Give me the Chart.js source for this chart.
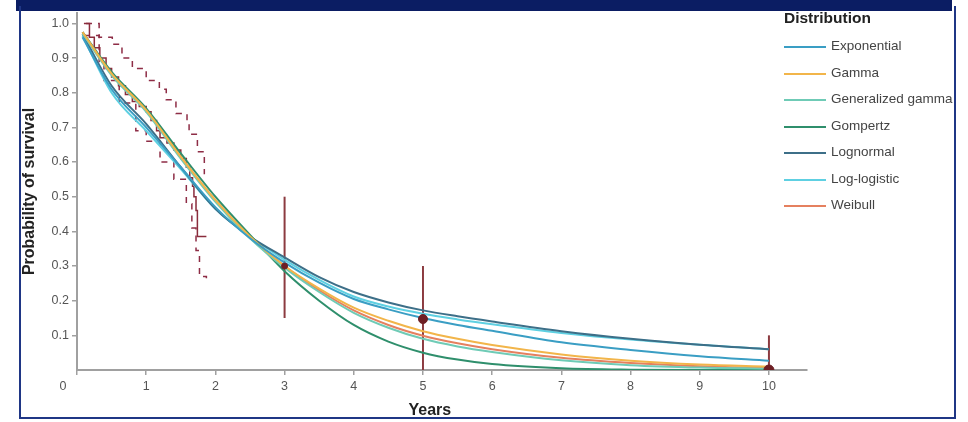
<!DOCTYPE html>
<html>
<head>
<meta charset="utf-8">
<script src="https://cdn.jsdelivr.net/npm/chart.js@4"></script>
<style>
  body { margin: 0; background: #fff; font-family: "Liberation Sans", Arial, sans-serif; }
  #wrap { position: relative; width: 968px; height: 422px; overflow: hidden; }
  #chart { position: absolute; left: 0; top: 0; }
  .band { position: absolute; left: 16px; top: 0; width: 936px; height: 11px; background: #0b1d63; }
  .frame { position: absolute; left: 19px; top: 6px; width: 933px; height: 411px; border: 2px solid #1f3685; border-top: none; }
  #legend { position: absolute; left: 784px; top: 7px; color: #444; }
  #legend .title { font-weight: bold; font-size: 15.5px; color: #222; height: 27px; line-height: 22px; }
  #legend .item { position: relative; height: 26.5px; font-size: 13.5px; white-space: nowrap; }
  #legend .swatch { position: absolute; left: 0; top: 12px; width: 42px; height: 2px; }
  #legend .label { position: absolute; left: 47px; top: 4px; }
</style>
</head>
<body>
<div id="wrap">
  <canvas id="chart" width="968" height="422"></canvas>
  <div class="band"></div>
  <div class="frame"></div>
  <div id="legend"></div>
</div>
<script>
"use strict";
// fitted parametric survival curves (years, probability)
const fitTimes = [0.08, 0.5, 1, 1.5, 2, 2.5, 3, 3.5, 4, 4.5, 5, 5.5, 6, 7, 8, 9, 10];
const exponential = [0.96, 0.81, 0.70, 0.585, 0.47, 0.38, 0.31, 0.252, 0.205, 0.175, 0.15, 0.13, 0.113, 0.08, 0.058, 0.04, 0.027];
const gamma = [0.975, 0.855, 0.75, 0.615, 0.49, 0.385, 0.30, 0.235, 0.18, 0.142, 0.112, 0.09, 0.072, 0.045, 0.027, 0.016, 0.01];
const genGamma = [0.97, 0.85, 0.745, 0.61, 0.485, 0.38, 0.295, 0.225, 0.165, 0.122, 0.09, 0.068, 0.052, 0.028, 0.014, 0.007, 0.004];
const gompertz = [0.975, 0.86, 0.755, 0.625, 0.50, 0.39, 0.285, 0.20, 0.13, 0.082, 0.05, 0.03, 0.017, 0.005, 0.001, 0, 0];
const lognormal = [0.97, 0.82, 0.71, 0.585, 0.465, 0.385, 0.325, 0.268, 0.225, 0.195, 0.172, 0.155, 0.14, 0.112, 0.09, 0.073, 0.06];
const logLogistic = [0.965, 0.80, 0.69, 0.58, 0.465, 0.385, 0.318, 0.26, 0.212, 0.183, 0.162, 0.146, 0.132, 0.107, 0.088, 0.073, 0.06];
const weibull = [0.975, 0.855, 0.75, 0.615, 0.49, 0.385, 0.30, 0.23, 0.172, 0.13, 0.099, 0.077, 0.06, 0.035, 0.02, 0.011, 0.006];

const distNames = ["Exponential", "Gamma", "Generalized gamma", "Gompertz", "Lognormal", "Log-logistic", "Weibull"];
const distColors = [
    "#3a9ec4", //exponential
    "#f2b54a", //gamma
    "#6fcbb6", //generalized gamma
    "#2f8f6c", //gompertz
    "#3d6f88", //lognormal
    "#5ed0e2", //log-logistic
    "#e5805f"  //weibull
];
const distSeries = [exponential, gamma, genGamma, gompertz, lognormal, logLogistic, weibull];

// Kaplan-Meier and its confidence band
const kmTimes = [0.1, 0.18, 0.25, 0.33, 0.42, 0.5, 0.6, 0.7, 0.8, 0.9, 1.0, 1.07, 1.15, 1.2, 1.3, 1.4, 1.5, 1.58, 1.63, 1.67, 1.69, 1.72, 1.74, 1.87];
const kmSurv = [1.0, 0.96, 0.93, 0.9, 0.87, 0.845, 0.82, 0.795, 0.775, 0.76, 0.745, 0.72, 0.69, 0.67, 0.655, 0.635, 0.61, 0.585, 0.555, 0.53, 0.5, 0.46, 0.385, 0.385];
const ciUpTimes = [0.13, 0.32, 0.51, 0.65, 0.8, 1.0, 1.19, 1.29, 1.43, 1.59, 1.62, 1.74, 1.84];
const ciUp = [1.0, 0.96, 0.94, 0.9, 0.87, 0.835, 0.81, 0.78, 0.74, 0.72, 0.68, 0.63, 0.565];
const ciLowTimes = [0.1, 0.32, 0.39, 0.61, 0.85, 1.0, 1.2, 1.4, 1.58, 1.66, 1.72, 1.77, 1.87];
const ciLow = [0.965, 0.885, 0.835, 0.77, 0.69, 0.66, 0.6, 0.55, 0.48, 0.41, 0.345, 0.27, 0.265];

// external estimates with ranges
const estTimes = [3, 5, 10];
const estPoint = [0.30, 0.147, 0.0];
const estLow = [0.15, 0.0, 0.0];
const estHigh = [0.5, 0.3, 0.1];

const xTicks = [0, 1, 2, 3, 4, 5, 6, 7, 8, 9, 10];
const yTicks = [0.1, 0.2, 0.3, 0.4, 0.5, 0.6, 0.7, 0.8, 0.9, 1.0];

const datasets = [];
datasets.push({
    type: "scatter",
    data: estTimes.map((t, i) => ({ x: t, y: estPoint[i] })),
    backgroundColor: "#6e1f24",
    borderColor: "#6e1f24",
    pointRadius: [3, 4.5, 5],
    order: 0
});
distSeries.forEach((s, k) => {
    datasets.push({
        data: fitTimes.map((t, i) => ({ x: t, y: s[i] })),
        borderColor: distColors[k],
        borderWidth: 2,
        pointRadius: 0,
        cubicInterpolationMode: "monotone",
        order: 1
    });
});
datasets.push({
    data: kmTimes.map((t, i) => ({ x: t, y: kmSurv[i] })),
    borderColor: "#8a2c3c",
    borderWidth: 1.5,
    pointRadius: 0,
    stepped: true,
    order: 2
});
[[ciUpTimes, ciUp], [ciLowTimes, ciLow]].forEach(([ts, vs]) => {
    datasets.push({
        data: ts.map((t, i) => ({ x: t, y: vs[i] })),
        borderColor: "#8e2d46",
        borderWidth: 1.5,
        borderDash: [6, 6],
        pointRadius: 0,
        stepped: true,
        order: 2
    });
});
estTimes.forEach((t, i) => {
    datasets.push({
        data: [{ x: t, y: estLow[i] }, { x: t, y: estHigh[i] }],
        borderColor: "#8c3b40",
        borderWidth: 2,
        pointRadius: 0,
        order: 3
    });
});

// the shared "0" at the corner and the x title, a bit left of centre as in the source
const axisText = {
    id: "axisText",
    afterDraw(c) {
        const ctx = c.ctx;
        const x = c.scales.x;
        ctx.save();
        ctx.textAlign = "center";
        ctx.textBaseline = "middle";
        ctx.font = "12.5px 'Liberation Sans', Arial";
        ctx.fillStyle = "#555";
        ctx.fillText("0", x.getPixelForValue(0) - 14, x.top + 17);
        ctx.font = "bold 16px 'Liberation Sans', Arial";
        ctx.fillStyle = "#222";
        ctx.fillText("Years", x.getPixelForValue(5.1), x.top + 41);
        ctx.restore();
    }
};

const tickFont = { family: "'Liberation Sans', Arial", size: 12.5 };
const titleFont = { family: "'Liberation Sans', Arial", size: 16, weight: "bold" };

new Chart("chart", {
    type: "line",
    data: { datasets: datasets },
    options: {
        responsive: false,
        animation: false,
        devicePixelRatio: 1,
        layout: { padding: { left: 18, right: 161, top: 13, bottom: 0 } },
        plugins: { legend: { display: false }, tooltip: { enabled: false } },
        scales: {
            x: {
                type: "linear",
                min: 0,
                max: 10.55,
                afterBuildTicks: (s) => { s.ticks = xTicks.map(v => ({ value: v })); },
                afterFit: (s) => { s.height = 422 - 370; },
                ticks: {
                    color: "#555",
                    font: tickFont,
                    padding: 4,
                    maxRotation: 0,
                    callback: (v) => (v === 0 ? "" : String(v))
                },
                grid: { drawOnChartArea: false, drawTicks: true, tickLength: 5, color: "#a0a0a0", lineWidth: 1.5 },
                border: { display: true, color: "#a0a0a0", width: 2 }
            },
            y: {
                type: "linear",
                min: 0,
                max: 1.03,
                afterBuildTicks: (s) => { s.ticks = yTicks.map(v => ({ value: v })); },
                afterFit: (s) => { s.width = 77 - 18; },
                ticks: {
                    color: "#555",
                    font: tickFont,
                    padding: 3,
                    callback: (v) => v.toFixed(1)
                },
                grid: { drawOnChartArea: false, drawTicks: true, tickLength: 5, color: "#a0a0a0", lineWidth: 1.5 },
                border: { display: true, color: "#a0a0a0", width: 2 },
                title: { display: true, text: "Probability of survival", color: "#222", font: titleFont, padding: { top: 2, bottom: 0 } }
            }
        }
    },
    plugins: [axisText]
});

// legend
const legend = document.getElementById("legend");
legend.innerHTML = '<div class="title">Distribution</div>' + distNames.map((n, i) =>
    '<div class="item"><span class="swatch" style="background:' + distColors[i] + '"></span><span class="label">' + n + '</span></div>'
).join("");
</script>
</body>
</html>
